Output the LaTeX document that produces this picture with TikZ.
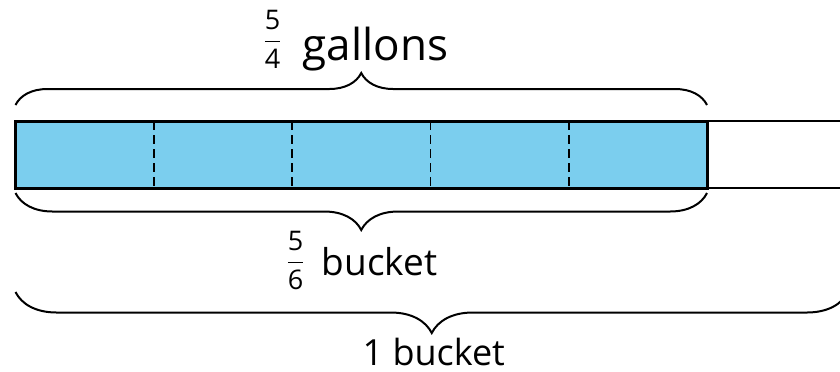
\documentclass[tikz,border=0pt]{standalone}
\usepackage{fontspec}
\setmainfont{Open Sans}
\usepackage{amsmath}
\usetikzlibrary{decorations.pathreplacing,positioning,calc}
\definecolor{tapeBlue}{HTML}{7BCEEE}
% fraction in the text font, lifted above the baseline by #2
\newcommand{\tapefrac}[4]{{\fontsize{#1}{#1}\selectfont\raisebox{#2}{$\dfrac{\text{#3}}{\text{#4}}$}}}
\tikzset{
  tapewhole/.style={draw=black, line width=1pt, fill=white, minimum width=416.25pt, minimum height=33.5pt, inner sep=0pt, outer sep=0pt, anchor=north west},
  tapepart/.style={draw=black, line width=1.5pt, fill=tapeBlue, minimum width=345.75pt, minimum height=33.5pt, inner sep=0pt, outer sep=0pt, anchor=north west},
  divider/.style={line width=0.9pt, dash pattern=on 4.5pt off 2.5pt},
  tapebrace/.style={decorate, decoration={brace, amplitude=#1}, line width=1pt},
  lbl/.style={inner sep=0pt, anchor=base},
}
\begin{document}
\begin{tikzpicture}[x=0.5pt, y=0.5pt]
\useasboundingbox (0,0) rectangle (840,-371);
% the bucket and the part of it that is full
\node[tapewhole] (whole) at (15.5,-121) {};
\node[tapepart] (full) at (15.5,-121) {};
\foreach \k in {1,...,4}
  \draw[divider] ($(full.north west)!\k/5!(full.north east)$) -- ($(full.south west)!\k/5!(full.south east)$);
% braces
\draw[tapebrace=16pt] ([yshift=8pt]full.north west) -- coordinate[midway] (galtip) ([yshift=8pt]full.north east);
\draw[tapebrace=18.5pt] ([yshift=-2.5pt]full.south east) -- coordinate[midway] (parttip) ([yshift=-2.5pt]full.south west);
\draw[tapebrace=20.5pt] ([yshift=-52pt]whole.south east) -- coordinate[midway] (wholetip) ([yshift=-52pt]whole.south west);
% labels
\node[lbl, font=\fontsize{22}{26}\selectfont] (gal) at ([xshift=-3pt,yshift=22.5pt]galtip) {\tapefrac{13.5}{5.5pt}{5}{4}\hspace{10pt}gallons};
\node[lbl, font=\fontsize{18.5}{22}\selectfont] (part) at ([yshift=-41pt]parttip) {\tapefrac{13.5}{2.5pt}{5}{6}\hspace{8pt}bucket};
\node[lbl, font=\fontsize{18}{22}\selectfont] (one) at ([xshift=1pt,yshift=-36.5pt]wholetip) {1 bucket};
\end{tikzpicture}
\end{document}
